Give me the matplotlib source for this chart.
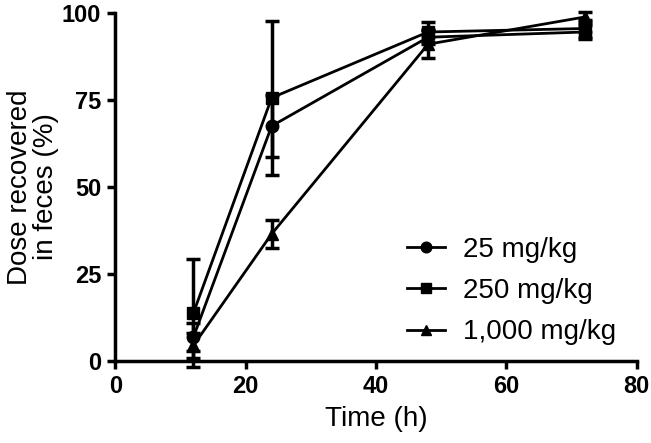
import numpy as np
import matplotlib
matplotlib.use('Agg')
import matplotlib.pyplot as plt

plt.rcParams['font.family'] = ['Liberation Sans', 'DejaVu Sans']

time_h = [12, 24, 48, 72]
labels = ['25 mg/kg', '250 mg/kg', '1,000 mg/kg']
mean_25 = [6.9, 67.5, 93.0, 94.5]
err_25 = [4.0, 8.9, 2.0, 2.0]
mean_250 = [13.8, 75.6, 94.5, 95.5]
err_250 = [15.5, 22.2, 3.0, 2.5]
mean_1000 = [4.5, 36.5, 91.0, 98.8]
err_1000 = [3.5, 4.0, 4.0, 1.5]

fig = plt.figure(figsize=(6.51, 4.43), dpi=100)
ax = fig.add_axes([0.177, 0.185, 0.801, 0.786])

markers = ['o', 's', '^']
for m, e, mk, lab in zip([mean_25, mean_250, mean_1000], [err_25, err_250, err_1000], markers, labels):
    ax.errorbar(time_h, m, yerr=e, fmt='none', ecolor='black',
                elinewidth=2.5, capsize=5, capthick=2.5, clip_on=False)
    ax.plot(time_h, m, color='black', marker=mk, markersize=9, linewidth=2,
            label=lab, clip_on=False)

ax.set_xlim(0, 80)
ax.set_ylim(0, 100)
ax.set_xticks([0, 20, 40, 60, 80])
ax.set_yticks([0, 25, 50, 75, 100])
for s in ['top', 'right']:
    ax.spines[s].set_visible(False)
for s in ['left', 'bottom']:
    ax.spines[s].set_linewidth(2.5)
ax.tick_params(width=2.5, length=6, labelsize=17, pad=4)
for t in ax.get_xticklabels() + ax.get_yticklabels():
    t.set_fontweight('bold')
ax.set_xlabel('Time (h)', fontsize=20, labelpad=6)
ax.set_ylabel('Dose recovered\nin feces (%)', fontsize=20, linespacing=1.0, labelpad=2)

leg = ax.legend(loc='lower left', bbox_to_anchor=(0.56, 0.045), frameon=False,
                fontsize=20, handlelength=1.37, handletextpad=0.65,
                labelspacing=0.55, borderpad=0, borderaxespad=0, markerscale=0.85)

fig.savefig('out.png', dpi=100)
